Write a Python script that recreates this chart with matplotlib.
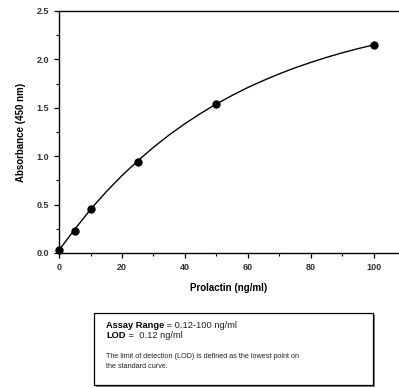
import matplotlib.pyplot as plt
from matplotlib.ticker import MultipleLocator

plt.rcParams['font.family'] = ['Liberation Sans', 'DejaVu Sans']

# standard points
conc = [0, 5, 10, 25, 50, 100]
absorb = [0.03, 0.23, 0.45, 0.94, 1.54, 2.15]

# fitted curve
curve_x = [0, 5, 10, 15, 20, 25, 30, 35, 40, 45, 50,
           55, 60, 65, 70, 75, 80, 85, 90, 95, 100]
curve_y = [0.03, 0.245, 0.45, 0.633, 0.80, 0.952, 1.092, 1.22, 1.336, 1.442, 1.54,
           1.628, 1.71, 1.783, 1.851, 1.913, 1.969, 2.021, 2.068, 2.111, 2.15]

fig = plt.figure(figsize=(3.99, 3.88), dpi=100)
ax = fig.add_axes([0.148, 0.348, 0.852, 0.6237])

ax.plot(curve_x, curve_y, color='black', lw=1.0, zorder=2)
ax.plot(conc, absorb, 'o', color='black', ms=5, zorder=3, clip_on=False)

ax.set_xlim(0, 108)
ax.set_ylim(0, 2.5)
ax.xaxis.set_major_locator(MultipleLocator(20))
ax.xaxis.set_minor_locator(MultipleLocator(10))
ax.yaxis.set_major_locator(MultipleLocator(0.5))
ax.yaxis.set_minor_locator(MultipleLocator(0.25))
ax.yaxis.set_major_formatter(plt.FormatStrFormatter('%.1f'))

ax.spines['right'].set_visible(False)
for s in ['left', 'bottom', 'top']:
    ax.spines[s].set_linewidth(1.0)
ax.tick_params(which='major', direction='out', length=3.5, width=0.9, labelsize=6.5, pad=3.5)
ax.tick_params(which='minor', direction='out', length=2.5, width=0.8)
for lab in ax.get_xticklabels() + ax.get_yticklabels():
    lab.set_fontweight('bold')
    lab.set_color('#333333')

ax.set_xlabel('Prolactin (ng/ml)', fontsize=7, fontweight='bold', labelpad=8)
ax.set_ylabel('Absorbance (450 nm)', fontsize=7, fontweight='bold', labelpad=8)

# info box with shadow
shadow = plt.Rectangle((96 / 399, 1 - 387 / 388), 279 / 399, 72 / 388,
                       transform=fig.transFigure, facecolor='#888888',
                       edgecolor='none', zorder=1)
box = plt.Rectangle((94 / 399, 1 - 385 / 388), 279 / 399, 72 / 388,
                    transform=fig.transFigure, facecolor='white',
                    edgecolor='black', lw=0.9, zorder=2)
fig.patches.extend([shadow, box])

fs = 5.25
fs_top = 6.7
tx = 106 / 399
renderer = fig.canvas.get_renderer()


def bold_then_plain(y, bold, plain):
    t = fig.text(tx, y, bold, fontsize=fs_top, fontweight='bold', va='center', zorder=3)
    bb = t.get_window_extent(renderer=renderer)
    x2 = fig.transFigure.inverted().transform((bb.x1, 0))[0]
    fig.text(x2, y, plain, fontsize=fs_top, va='center', color='#222222', zorder=3)


bold_then_plain(1 - 325 / 388, 'Assay Range', ' = 0.12-100 ng/ml')
bold_then_plain(1 - 335.5 / 388, 'LOD', ' =  0.12 ng/ml')
fig.text(tx, 1 - 356 / 388,
         'The limit of detection (LOD) is defined as the lowest point on',
         fontsize=fs, va='center', color='#222222', zorder=3)
fig.text(tx, 1 - 366 / 388, 'the standard curve.',
         fontsize=fs, va='center', color='#222222', zorder=3)

plt.savefig('out.png', dpi=100)
